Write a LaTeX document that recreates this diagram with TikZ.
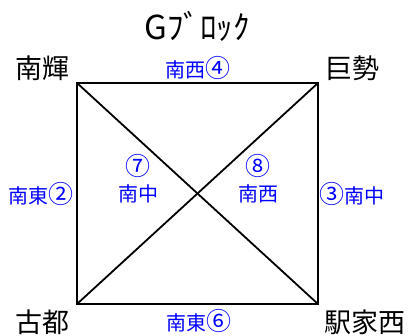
\documentclass[tikz,border=0pt]{standalone}
\usepackage{fontspec}
\setmainfont{Noto Sans CJK JP}
\newcommand{\circnum}[1]{{\fontsize{25}{25}\selectfont #1}}
\begin{document}
\begin{tikzpicture}[x=1pt,y=-1pt,
  team/.style={font=\fontsize{27}{27}\selectfont, text=black, inner sep=0pt},
  match/.style={font=\fontsize{20}{20}\selectfont, text=blue, inner sep=0pt},
  titlestyle/.style={font=\fontsize{33}{33}\selectfont, inner sep=0pt},
  border/.style={line width=2.6pt, line join=miter},
  diag/.style={line width=1.8pt}]
\useasboundingbox (0,0) rectangle (410,335);
\coordinate (NW) at (77,83);
\coordinate (NE) at (318,83);
\coordinate (SE) at (318,304);
\coordinate (SW) at (77,304);
\draw[border] (NW) -- (NE) -- (SE) -- (SW) -- cycle;
\draw[diag] (NW) -- (SE);
\draw[diag] (NE) -- (SW);
\node[titlestyle] (title) at (197,26) {Gﾌﾞﾛｯｸ};
\node[team] (nanki) at (43,68) {南輝};
\node[team] (kose) at (352,68) {巨勢};
\node[team] (koto) at (43,322) {古都};
\node[team] (ekiya) at (365,322) {駅家西};
\node[match] (m4) at (198,68) {南西\circnum{④}};
\node[match] (m6) at (199,321) {南東\circnum{⑥}};
\node[match] (m2) at (41,194) {南東\circnum{②}};
\node[match] (m3) at (352,194) {\circnum{③}南中};
\node[match] (m7) at (138,166) {\circnum{⑦}};
\node[match] (m7b) at (138,194) {南中};
\node[match] (m8) at (258,166) {\circnum{⑧}};
\node[match] (m8b) at (258,194) {南西};
\end{tikzpicture}
\end{document}
